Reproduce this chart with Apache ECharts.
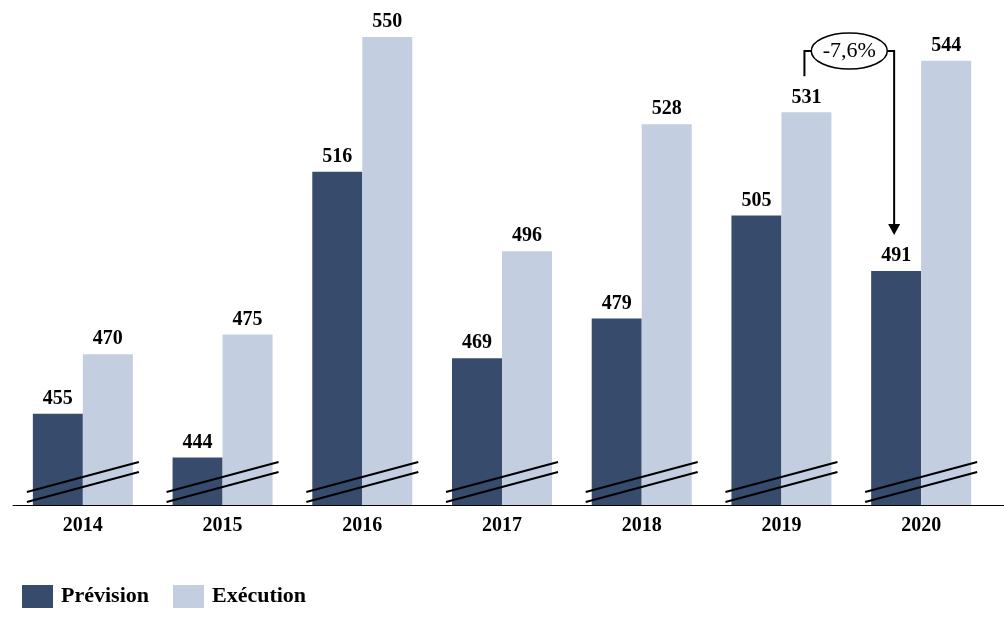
<!DOCTYPE html>
<html>
<head>
<meta charset="utf-8">
<script src="https://cdn.jsdelivr.net/npm/echarts@6/dist/echarts.min.js"></script>
<style>html,body{margin:0;padding:0;background:#fff}#c{width:1004px;height:624px}</style>
</head>
<body>
<div id="c"></div>
<script>
const categories = ['2014','2015','2016','2017','2018','2019','2020'];
const prevision = [455, 444, 516, 469, 479, 505, 491];
const execution = [470, 475, 550, 496, 528, 531, 544];
const seriesNames = ['Prévision', 'Exécution'];
const annotationText = '-7,6%';
const yMin = 432, yMax = 550;

const FONT = '"Liberation Serif", "DejaVu Serif", serif';
const DARK = '#374C6C', LIGHT = '#C4CEE1';

const chart = echarts.init(document.getElementById('c'), null, {renderer: 'canvas'});
const labelStyle = {show: true, position: 'top', distance: 5, fontFamily: FONT, fontWeight: 'bold', fontSize: 20, color: '#000'};

chart.setOption({
  animation: false,
  backgroundColor: '#fff',
  grid: {left: 13, right: 13, top: 37, bottom: 119, containLabel: false},
  legend: {
    data: seriesNames, left: 17, top: 580, itemWidth: 31, itemHeight: 23, itemGap: 24,
    icon: 'rect',
    textStyle: {fontFamily: FONT, fontWeight: 'bold', fontSize: 22, color: '#000', padding: [0, 0, 0, 3]}
  },
  xAxis: {
    type: 'category', data: categories,
    axisLine: {lineStyle: {color: '#000', width: 1}},
    axisTick: {show: false},
    axisLabel: {fontFamily: FONT, fontWeight: 'bold', fontSize: 20, color: '#000', margin: 11}
  },
  yAxis: {type: 'value', min: yMin, max: yMax, show: false, splitLine: {show: false}},
  series: [
    {name: seriesNames[0], type: 'bar', data: prevision, barWidth: 50, barGap: '0%', itemStyle: {color: DARK}, label: labelStyle},
    {name: seriesNames[1], type: 'bar', data: execution, barWidth: 50, barGap: '0%', itemStyle: {color: LIGHT}, label: labelStyle},
    {
      type: 'custom', silent: true, z: 10,
      data: categories.map((c, i) => [i]),
      renderItem: function (params, api) {
        const p = api.coord([api.value(0), yMin]);
        const st = {stroke: '#000', lineWidth: 2};
        return {type: 'group', children: [
          {type: 'line', shape: {x1: p[0] - 56, y1: p[1] - 13, x2: p[0] + 56, y2: p[1] - 43}, style: st},
          {type: 'line', shape: {x1: p[0] - 56, y1: p[1] - 3, x2: p[0] + 56, y2: p[1] - 33}, style: st}
        ]};
      }
    }
  ]
});

// Annotation between 2019 Exécution and 2020 Prévision
const half = 25;
const a = chart.convertToPixel({gridIndex: 0}, [5, execution[5]]);
const b = chart.convertToPixel({gridIndex: 0}, [6, prevision[6]]);
const base = chart.convertToPixel({gridIndex: 0}, [6, yMin]);
const x1 = a[0] + half - 2, x2 = b[0] - half - 2;
const yTop = 51;
const cx = (x1 + x2) / 2;
const rx = 38, ry = 18;
const lineSt = {stroke: '#000', lineWidth: 2, fill: null};
chart.setOption({
  graphic: [
    {type: 'line', shape: {x1: base[0] + 60, y1: base[1] + 0.5, x2: 1004, y2: base[1] + 0.5}, style: {stroke: '#000', lineWidth: 1}, z: 5},
    {type: 'polyline', shape: {points: [[x1, a[1] - 36], [x1, yTop], [cx - rx, yTop]]}, style: lineSt, z: 20},
    {type: 'polyline', shape: {points: [[cx + rx, yTop], [x2, yTop], [x2, b[1] - 46]]}, style: lineSt, z: 20},
    {type: 'polygon', shape: {points: [[x2 - 6, b[1] - 47], [x2 + 6, b[1] - 47], [x2, b[1] - 36]]}, style: {fill: '#000'}, z: 20},
    {type: 'ellipse', shape: {cx: cx, cy: yTop, rx: rx, ry: ry}, style: {fill: '#fff', stroke: '#000', lineWidth: 1.5}, z: 21},
    {type: 'text', x: cx, y: yTop, z: 22, style: {text: annotationText, fontFamily: FONT, fontSize: 22, fill: '#000', align: 'center', verticalAlign: 'middle'}}
  ]
});
</script>
</body>
</html>
